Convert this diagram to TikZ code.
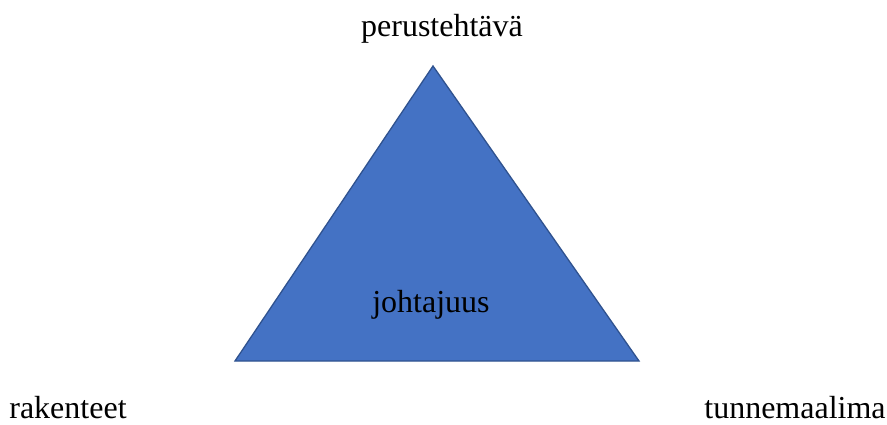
\documentclass[tikz,border=0pt]{standalone}
\usepackage{fontspec}
\setmainfont{Liberation Serif}
\usetikzlibrary{positioning}
\definecolor{tri}{HTML}{4472C4}
\definecolor{triedge}{HTML}{2F528F}
\tikzset{
  lbl/.style={anchor=base,inner sep=0pt,font=\fontsize{32}{38}\selectfont},
  tribox/.style={fill=tri,draw=triedge,line width=1.3pt,line join=miter},
}
\begin{document}
\begin{tikzpicture}[x=1pt,y=-1pt]
\useasboundingbox (0,0) rectangle (887,425);
\coordinate (top) at (433,66);
\coordinate (bl) at (235,361);
\coordinate (br) at (639,361);
\draw[tribox] (top) -- (bl) -- (br) -- cycle;
\node[lbl] (task) at (442,37) {perustehtävä};
\node[lbl] (lead) at (431,312) {johtajuus};
\node[lbl] (struct) at (68,418) {rakenteet};
\node[lbl] (emo) at (795,418) {tunnemaalima};
\end{tikzpicture}
\end{document}
